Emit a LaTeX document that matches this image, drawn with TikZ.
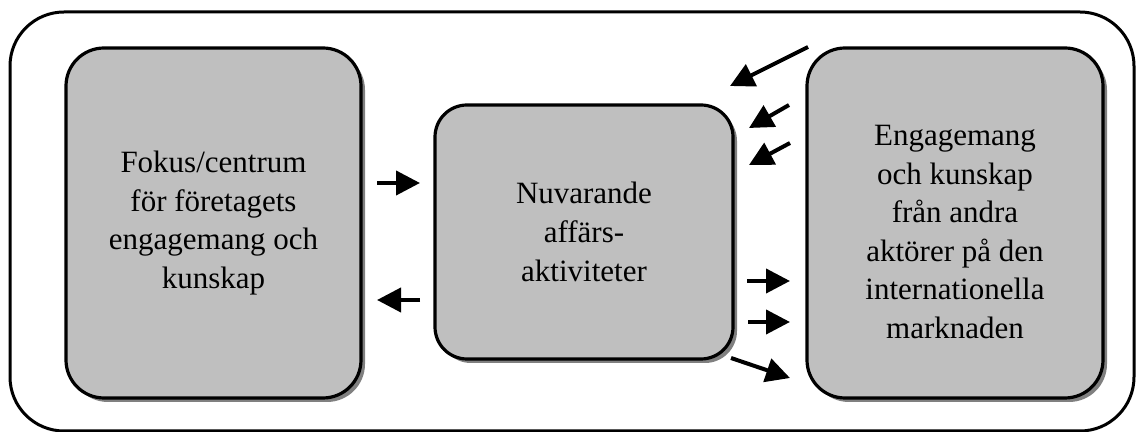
\documentclass[tikz,border=0pt]{standalone}
\usepackage{fontspec}
\setmainfont{Liberation Serif}
\usetikzlibrary{arrows.meta,shadows}

\begin{document}
\begin{tikzpicture}[
			x=0.5pt,y=-0.5pt,
			every node/.style={
				align=center,
				font=\fontsize{15.5}{19.3}\selectfont
			},
			frame/.style={draw,line width=1.5pt,rounded corners=27pt,
				minimum width=562pt,minimum height=209.5pt},
			box/.style={draw,line width=1.6pt,fill=black!25,rounded corners=19pt,
				drop shadow={shadow xshift=2pt,shadow yshift=-2pt,fill=black!50,opacity=1}},
			arrow/.style={-{Triangle[length=12pt,width=12pt]},line width=2pt}
			]
			
			\useasboundingbox (0,0) rectangle (1136,432);
			
			\node[frame] (outer) at (572,221.5) {};
			
			\node[box,minimum width=147.5pt,minimum height=175pt] (fokus) at (213.5,223)
				{Fokus/centrum\\för företagets\\engagemang och\\kunskap};
			\node[box,minimum width=149pt,minimum height=127pt,rounded corners=16pt] (akt) at (584,232)
				{Nuvarande\\affärs-\\aktiviteter};
			\node[box,minimum width=148pt,minimum height=175pt] (andra) at (955,223) {};
			\node (andratext) at ([yshift=-4.5pt]andra.center)
				{Engagemang\\och kunskap\\från andra\\aktörer på den\\internationella\\marknaden};
			
			\coordinate (a1) at (377,183);
			\coordinate (b1) at (420,183);
			\coordinate (a2) at (420,300);
			\coordinate (b2) at (377,300);
			
			\coordinate (c1) at (808,47);
			\coordinate (d1) at (730,86);
			\coordinate (c2) at (789,105);
			\coordinate (d2) at (749,128);
			\coordinate (c3) at (790,143);
			\coordinate (d3) at (749,165);
			
			\coordinate (e1) at (747,281);
			\coordinate (f1) at (790,281);
			\coordinate (e2) at (748,322);
			\coordinate (f2) at (790,322);
			\coordinate (e3) at (731,358);
			\coordinate (f3) at (790,378);
			
			\draw[arrow] (a1) -- (b1);
			\draw[arrow] (a2) -- (b2);
			
			\draw[arrow] (c1) -- (d1);
			\draw[arrow] (c2) -- (d2);
			\draw[arrow] (c3) -- (d3);
			
			\draw[arrow] (e1) -- (f1);
			\draw[arrow] (e2) -- (f2);
			\draw[arrow] (e3) -- (f3);
			
		\end{tikzpicture}
\end{document}
